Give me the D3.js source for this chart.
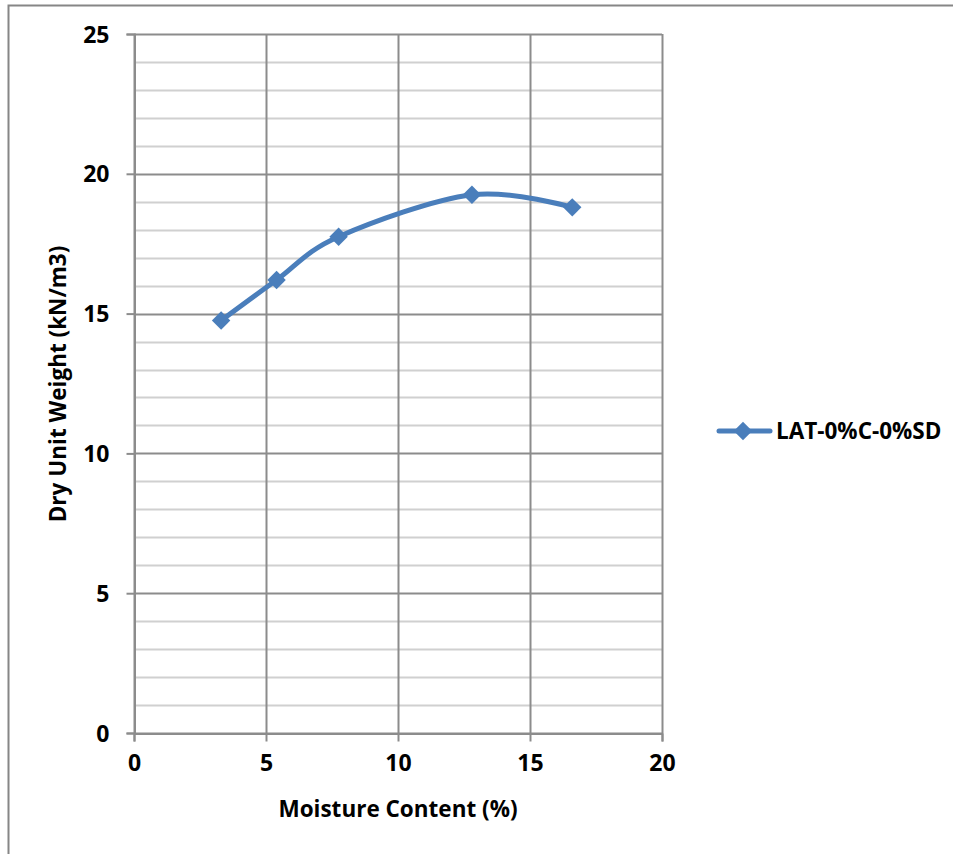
<!DOCTYPE html>
<html>
<head>
<meta charset="utf-8">
<script src="https://cdn.jsdelivr.net/npm/d3@7"></script>
<style>
  html, body { margin: 0; padding: 0; background: #fff; }
  svg { display: block; }
  text { font-family: "Open Sans", Lato, sans-serif; font-weight: bold; fill: #000; }
</style>
</head>
<body>
<svg id="chart" width="954" height="854"></svg>
<script>
// Compaction test: dry unit weight vs moisture content
const seriesName = "LAT-0%C-0%SD";
const moisture = [3.3, 5.4, 7.75, 12.8, 16.6];
const dryUnitWeight = [14.75, 16.2, 17.75, 19.25, 18.8];
const xTicks = [0, 5, 10, 15, 20];
const yTicks = [0, 5, 10, 15, 20, 25];
const yMinorTicks = d3.range(0, 26, 1);

const svg = d3.select("#chart");
const W = 954, H = 854;
const FONT = "'Open Sans', Lato, sans-serif";

// outer frame (top and left edges)
svg.append("path")
  .attr("d", `M8.5,${H} V5.5 H953`)
  .attr("fill", "none").attr("stroke", "#868686").attr("stroke-width", 2);

const plot = { left: 134, right: 662, top: 34, bottom: 733 };

const x = d3.scaleLinear().domain([0, 20]).range([plot.left, plot.right]);
const y = d3.scaleLinear().domain([0, 25]).range([plot.bottom, plot.top]);

// minor horizontal gridlines
svg.append("g").selectAll("line")
  .data(yMinorTicks.filter(v => v % 5 !== 0))
  .join("line")
  .attr("x1", plot.left).attr("x2", plot.right)
  .attr("y1", d => Math.round(y(d)) + 0.5).attr("y2", d => Math.round(y(d)) + 0.5)
  .attr("stroke", "#d0d0d0").attr("stroke-width", 2);

// major gridlines
svg.append("g").selectAll("line")
  .data(yTicks)
  .join("line")
  .attr("x1", plot.left).attr("x2", plot.right)
  .attr("y1", d => Math.round(y(d)) + 0.5).attr("y2", d => Math.round(y(d)) + 0.5)
  .attr("stroke", "#8c8c8c").attr("stroke-width", 2);

svg.append("g").selectAll("line")
  .data(xTicks)
  .join("line")
  .attr("x1", d => Math.round(x(d)) + 0.5).attr("x2", d => Math.round(x(d)) + 0.5)
  .attr("y1", plot.top).attr("y2", plot.bottom)
  .attr("stroke", "#8c8c8c").attr("stroke-width", 2);

// axes
const yAxis = d3.axisLeft(y).tickValues(yTicks).tickSize(8).tickPadding(17).tickFormat(d3.format("d"));
const gy = svg.append("g").attr("transform", `translate(${plot.left + 0.5},0)`).call(yAxis);
const xAxis = d3.axisBottom(x).tickValues(xTicks).tickSize(8).tickPadding(13).tickFormat(d3.format("d"));
const gx = svg.append("g").attr("transform", `translate(0,${plot.bottom + 0.5})`).call(xAxis);

[gy, gx].forEach(g => {
  g.select(".domain").attr("stroke", "#8c8c8c").attr("stroke-width", 2);
  g.selectAll(".tick line").attr("stroke", "#8c8c8c").attr("stroke-width", 2);
  g.selectAll(".tick text")
    .attr("font-family", FONT)
    .attr("font-weight", "bold").attr("font-size", 23).attr("fill", "#000");
});
gy.selectAll(".tick text").attr("dy", "0.35em");

// axis titles
svg.append("text")
  .attr("x", 398).attr("y", 817)
  .attr("text-anchor", "middle").attr("font-size", 22.5)
  .text("Moisture Content (%)");

svg.append("text")
  .attr("transform", "translate(66,384) rotate(-90)")
  .attr("text-anchor", "middle").attr("font-size", 22.5)
  .text("Dry Unit Weight  (kN/m3)");

// series
const color = "#4a7ebb";
const pts = moisture.map((m, i) => [m, dryUnitWeight[i]]);

const line = d3.line()
  .x(d => x(d[0])).y(d => y(d[1]))
  .curve(d3.curveCardinal.tension(0));

svg.append("path")
  .datum(pts)
  .attr("d", line)
  .attr("fill", "none").attr("stroke", color)
  .attr("stroke-width", 5).attr("stroke-linecap", "round").attr("stroke-linejoin", "round");

const marker = d3.symbol().type(d3.symbolSquare).size(170);
svg.append("g").selectAll("path")
  .data(pts)
  .join("path")
  .attr("transform", d => `translate(${x(d[0])},${y(d[1])}) rotate(45)`)
  .attr("d", marker)
  .attr("fill", color);

// legend
const lg = svg.append("g").attr("transform", "translate(0,431)");
lg.append("line")
  .attr("x1", 719).attr("x2", 770).attr("y1", 0).attr("y2", 0)
  .attr("stroke", color).attr("stroke-width", 5).attr("stroke-linecap", "round");
lg.append("path")
  .attr("transform", "translate(743,0) rotate(45)")
  .attr("d", marker)
  .attr("fill", color);
lg.append("text")
  .attr("x", 776).attr("y", 0).attr("dy", "0.35em")
  .attr("font-size", 22.5)
  .text(seriesName);
</script>
</body>
</html>
